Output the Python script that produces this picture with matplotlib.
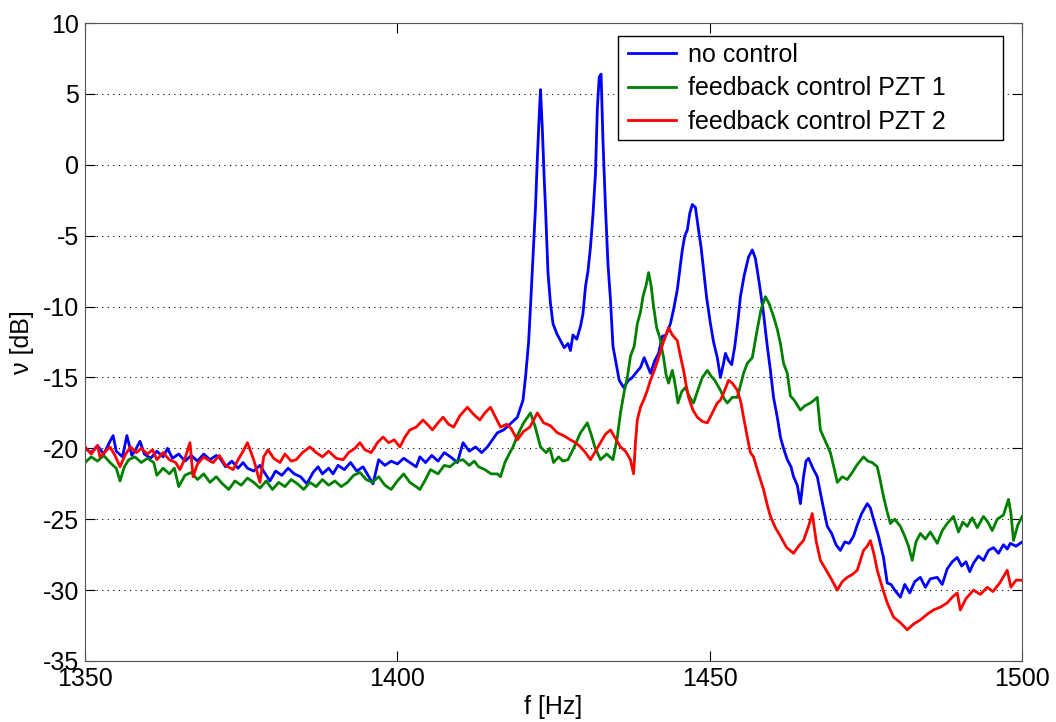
import numpy as np
import matplotlib
matplotlib.use('Agg')
import matplotlib.pyplot as plt
from matplotlib.patches import Rectangle

# no control (blue)
f_nc = [1350, 1351, 1352, 1353, 1354, 1354.5, 1355, 1356, 1356.7, 1357.5, 1358.2, 1358.8, 1359.5,
        1360.5, 1361.5, 1362.5, 1363.2, 1364, 1365, 1366, 1367, 1368, 1369, 1370, 1371, 1371.6,
        1372.5, 1373.5, 1374.5, 1375.3, 1376, 1377, 1378, 1379, 1379.6, 1380.5, 1381.5, 1382.5,
        1383.5, 1384.5, 1385.5, 1386.5, 1387.3, 1388, 1389, 1389.7, 1390.5, 1391.5, 1392.5, 1393.5,
        1394.5, 1395.3, 1396.1, 1397, 1398, 1399, 1400, 1401, 1402, 1403, 1403.6, 1404.5, 1405.5,
        1406.5, 1407.5, 1408.5, 1409.6, 1410.5, 1411.5, 1412.5, 1413.5, 1414.4, 1415.2, 1416, 1417,
        1418, 1419.2, 1420.1, 1420.5, 1421.0, 1421.3, 1421.7, 1422.1, 1422.4, 1422.7, 1422.9, 1423.2,
        1423.5, 1423.7, 1424.1, 1424.5, 1424.9, 1425.5, 1426.1, 1426.7, 1427.3, 1427.7, 1428.1,
        1428.7, 1429.3, 1429.7, 1430.1, 1430.5, 1430.9, 1431.3, 1431.7, 1432.0, 1432.3, 1432.6,
        1432.9, 1433.3, 1433.7, 1434.1, 1434.5, 1435.0, 1435.5, 1436.2, 1437, 1437.6, 1438.3, 1438.9,
        1439.5, 1440.5, 1441.2, 1441.8, 1442.4, 1443.0, 1443.7, 1444.2, 1444.8, 1445.2, 1445.6, 1446.0,
        1446.4, 1446.8, 1447.2, 1447.7, 1448.2, 1448.6, 1449.0, 1449.5, 1450.1, 1450.6, 1451.2, 1451.7,
        1452.2, 1452.5, 1453.0, 1453.5, 1454.0, 1454.5, 1454.9, 1455.5, 1456.2, 1456.8, 1457.3, 1457.9,
        1458.6, 1459.2, 1459.7, 1460.2, 1460.8, 1461.3, 1461.8, 1462.4, 1463.0, 1463.4, 1464.0, 1464.5,
        1465.0, 1465.4, 1465.8, 1466.5, 1467.2, 1468, 1468.8, 1469.5, 1470.2, 1470.9, 1471.6, 1472.3,
        1473, 1473.6, 1474.3, 1475.2, 1475.7, 1476.2, 1477.0, 1477.8, 1478.4, 1479.0, 1479.6, 1480.5,
        1481.2, 1482, 1482.8, 1483.7, 1484.5, 1485.3, 1486.4, 1487.2, 1488, 1488.8, 1489.6, 1490.3,
        1491, 1491.6, 1492.2, 1493, 1493.8, 1494.6, 1495.4, 1496.2, 1497, 1497.6, 1498.1, 1499, 1500]
db_nc = [-20.0, -20.3, -19.8, -20.4, -19.5, -19.1, -20.2, -20.6, -19.1, -20.5, -20.0, -19.5, -20.4,
         -20.7, -20.2, -20.6, -20.0, -20.7, -20.4, -20.9, -20.5, -20.9, -20.4, -20.8, -20.5, -20.7,
         -21.3, -20.9, -21.4, -21.0, -21.4, -21.6, -21.2, -21.9, -22.3, -21.6, -21.9, -21.4,
         -21.8, -22.0, -22.5, -21.7, -21.3, -21.8, -21.4, -21.8, -21.2, -21.5, -21.0, -21.6,
         -21.3, -21.9, -22.5, -20.8, -21.2, -20.9, -21.1, -20.7, -21.0, -21.3, -20.6, -21.0, -20.5,
         -20.9, -20.3, -20.6, -21.0, -19.6, -20.2, -19.9, -20.3, -19.9, -19.4, -18.9, -18.7,
         -18.3, -17.8, -16.6, -15.0, -12.5, -10.0, -6.5, -3.0, 0.5, 3.5, 5.3, 2.5,
         -1.0, -3.0, -7.6, -9.8, -11.2, -11.9, -12.4, -12.9, -12.6, -13.1, -12.0,
         -12.3, -11.4, -10.5, -8.6, -7.5, -5.8, -3.5, -0.6, 4.0, 6.2, 6.4,
         1.7, -3.0, -7.0, -9.5, -12.8, -14.0, -15.2, -15.7, -15.2, -15.0, -14.6, -14.3,
         -13.6, -14.7, -13.8, -13.3, -12.1, -12.0, -11.2, -10.2, -8.8, -7.4, -6.0, -5.0,
         -4.6, -3.4, -2.8, -3.0, -4.6, -5.8, -7.4, -9.4, -11.2, -12.5, -13.6, -15.0,
         -14.0, -13.3, -13.8, -14.1, -12.8, -11.0, -9.3, -7.8, -6.5, -6.0, -6.6, -8.3,
         -10.5, -12.8, -14.5, -16.4, -17.8, -19.2, -20.0, -20.8, -21.3, -22.0, -22.6, -23.9,
         -22.0, -20.9, -20.7, -21.4, -22.0, -23.8, -25.5, -26.0, -26.8, -27.2, -26.6, -26.7,
         -26.2, -25.4, -24.6, -23.9, -24.2, -25.0, -26.2, -27.7, -29.5, -29.6, -30.0, -30.5,
         -29.6, -30.2, -29.4, -29.1, -29.8, -29.2, -29.1, -29.6, -28.5, -28.0, -27.7, -28.3,
         -28.0, -28.7, -28.1, -27.6, -27.9, -27.2, -27.0, -27.4, -26.8, -27.1, -26.7, -26.9, -26.6]

# feedback control PZT 1 (green)
f_p1 = [1350, 1351, 1352, 1353, 1354, 1355, 1355.6, 1356.3, 1357, 1358, 1359, 1360, 1361, 1361.5,
        1362.5, 1363.5, 1364.3, 1365, 1366, 1367, 1368, 1369, 1370, 1371, 1372, 1373, 1374, 1375,
        1376, 1377, 1378, 1379, 1380, 1381, 1382, 1383, 1384, 1385, 1386, 1387, 1388, 1389, 1390,
        1391, 1392, 1393, 1394, 1395, 1396, 1397, 1398, 1399, 1400, 1401, 1402, 1403, 1403.6,
        1404.5, 1405.3, 1406.5, 1407.5, 1408.4, 1409.5, 1410.5, 1411.5, 1412.3, 1413, 1414, 1415,
        1416, 1416.5, 1417.2, 1418, 1418.5, 1419.3, 1420.2, 1421.3, 1422, 1422.9, 1423.8, 1424.4,
        1425, 1425.8, 1426.5, 1427.3, 1428.3, 1429.3, 1430.4, 1431, 1431.6, 1432.5, 1433.5, 1434.5,
        1435.2, 1435.7, 1436.3, 1436.8, 1437.3, 1437.9, 1438.4, 1438.9, 1439.3, 1439.8, 1440.2,
        1440.6, 1441, 1441.5, 1442, 1442.6, 1443, 1443.4, 1444, 1444.5, 1444.9, 1445.5, 1446.1,
        1446.8, 1447.4, 1448, 1448.8, 1449.6, 1450.2, 1450.8, 1451.7, 1452.3, 1452.8, 1453.6, 1454.4,
        1455, 1455.4, 1456, 1456.8, 1457.2, 1457.6, 1458.2, 1458.9, 1459.5, 1460.2, 1460.8, 1461.3,
        1461.8, 1462.4, 1462.9, 1463.5, 1464.5, 1465.2, 1466.1, 1466.7, 1467.2, 1467.7, 1468.5,
        1469.3, 1470, 1470.4, 1471.2, 1472, 1472.8, 1473.5, 1474.6, 1475.3, 1476, 1476.8, 1477.3,
        1477.8, 1478.4, 1478.9, 1479.6, 1480.5, 1481.2, 1481.8, 1482.4, 1483, 1483.7, 1484.5, 1485.3,
        1486.4, 1487.2, 1488, 1489, 1489.8, 1490.5, 1491.2, 1492, 1492.8, 1493.8, 1494.5, 1495.2,
        1496, 1497, 1497.8, 1498.2, 1498.6, 1499.3, 1500]
db_p1 = [-21.0, -20.6, -20.9, -20.5, -21.0, -21.4, -22.3, -21.3, -20.8, -20.6, -21.0, -20.7, -21.0, -21.9,
         -21.4, -21.8, -21.4, -22.7, -21.9, -21.7, -22.2, -21.8, -22.4, -22.0, -22.5, -22.9, -22.3, -22.6,
         -22.1, -22.4, -22.8, -22.3, -22.9, -22.4, -22.7, -22.2, -22.5, -22.9, -22.4, -22.7, -22.2, -22.6, -22.3,
         -22.7, -22.4, -21.9, -21.7, -22.2, -22.4, -22.0, -22.6, -22.9, -22.3, -21.8, -22.4, -22.7, -22.9,
         -22.2, -21.5, -21.8, -21.2, -21.3, -20.9, -20.8, -21.2, -20.9, -21.3, -21.5, -21.8,
         -21.8, -22.0, -21.0, -20.3, -19.9, -19.0, -18.2, -17.5, -18.4, -19.9, -20.3, -20.0,
         -21.0, -20.6, -20.9, -20.8, -19.9, -18.9, -18.2, -19.0, -19.9, -20.8, -20.4, -20.8,
         -19.2, -17.5, -16.0, -15.0, -13.5, -12.8, -11.2, -10.4, -9.3, -8.5, -7.6,
         -8.5, -10.0, -11.5, -12.2, -13.6, -14.8, -15.4, -14.5, -15.6, -16.8, -16.0, -15.7,
         -16.4, -16.8, -16.0, -15.0, -14.5, -14.9, -15.2, -15.9, -16.5, -16.8, -16.4, -16.4,
         -15.4, -14.7, -14.0, -13.6, -12.6, -11.6, -10.2, -9.3, -9.8, -10.7, -11.6, -12.6,
         -14.0, -14.7, -16.3, -16.6, -17.3, -17.0, -16.8, -16.6, -16.4, -18.7, -19.5,
         -20.3, -21.6, -22.4, -22.0, -22.2, -21.7, -21.2, -20.6, -20.9, -21.0, -21.3, -22.3,
         -23.4, -24.5, -25.3, -25.0, -25.5, -26.2, -26.9, -27.9, -26.6, -26.0, -26.4, -25.9,
         -26.7, -25.8, -25.3, -24.8, -25.9, -25.2, -25.5, -24.9, -25.6, -24.8, -25.2, -25.8,
         -25.0, -24.7, -23.6, -24.6, -26.5, -25.4, -24.8]

# feedback control PZT 2 (red)
f_p2 = [1350, 1351, 1352, 1352.4, 1353.3, 1354, 1354.8, 1355.6, 1356.5, 1357.3, 1358.2, 1359, 1360,
        1360.8, 1361.5, 1362.5, 1363.5, 1364.5, 1365.2, 1366, 1366.8, 1367.3, 1368, 1369, 1370, 1370.5,
        1371.5, 1372.5, 1373.7, 1374.5, 1375.3, 1376, 1377, 1378, 1378.6, 1379.3, 1380.2, 1381.2, 1382,
        1383, 1383.8, 1384.8, 1386, 1387, 1388, 1389, 1390.2, 1391.3, 1392.2, 1393.2, 1394, 1394.8,
        1395.8, 1396.8, 1397.7, 1398.6, 1399.5, 1400.4, 1401.2, 1402, 1403, 1404.1, 1405, 1405.6,
        1406.5, 1407.3, 1408.2, 1409, 1410, 1411.2, 1412.2, 1413.2, 1414, 1414.9, 1415.7, 1416.5,
        1417.5, 1418.2, 1419.2, 1420.2, 1421.2, 1422.4, 1423.4, 1424.5, 1425.6, 1426.6, 1427.7, 1428.5,
        1429.3, 1430.1, 1430.9, 1431.7, 1432.5, 1433.3, 1434.1, 1434.9, 1435.7, 1436.5, 1437.3, 1437.8,
        1438.1, 1438.4, 1438.9, 1439.5, 1440.0, 1440.5, 1441.2, 1441.8, 1442.5, 1443.0, 1443.4, 1444.0,
        1444.8, 1445.3, 1445.8, 1446.2, 1446.6, 1447.3, 1448, 1448.8, 1449.6, 1450.4, 1451.2, 1451.7,
        1452.3, 1453.0, 1453.6, 1454.4, 1455, 1455.4, 1456, 1456.5, 1457, 1457.8, 1458.6, 1459.2,
        1459.7, 1460.5, 1461.3, 1462.3, 1463.4, 1464.2, 1465, 1465.8, 1466.4, 1467, 1467.7, 1468.5,
        1469.3, 1470.4, 1471.2, 1472, 1472.8, 1473.6, 1474.6, 1475.2, 1475.7, 1476.3, 1476.8, 1477.6,
        1478.4, 1479.4, 1480.5, 1481.6, 1482.6, 1483.7, 1484.8, 1485.8, 1486.9, 1488, 1488.8, 1489.6,
        1490.1, 1491, 1492.2, 1493.3, 1494.4, 1495.3, 1496.4, 1497.6, 1498.2, 1499, 1500]
db_p2 = [-19.9, -20.4, -19.8, -20.6, -20.2, -19.9, -20.5, -21.3, -20.4, -19.9, -20.3, -20.0, -20.4,
         -20.1, -20.8, -20.3, -20.8, -21.0, -21.5, -20.7, -19.6, -22.0, -21.1, -20.6, -20.9, -21.0,
         -20.5, -21.2, -21.5, -20.8, -20.2, -19.6, -20.8, -22.4, -20.6, -20.1, -20.7, -21.0, -20.4,
         -20.9, -20.8, -20.3, -19.9, -20.3, -20.6, -20.2, -20.7, -20.8, -20.3, -20.0, -19.6, -20.1,
         -20.3, -19.6, -19.2, -19.6, -19.4, -19.9, -19.2, -18.7, -18.5, -18.0, -18.4, -18.7,
         -18.2, -17.8, -18.3, -18.5, -17.7, -17.1, -17.6, -18.0, -17.5, -17.1, -17.8, -18.5,
         -18.3, -18.6, -19.4, -18.8, -18.5, -17.5, -18.2, -18.4, -18.9, -19.1, -19.4, -19.6,
         -19.9, -20.3, -20.8, -20.2, -19.6, -19.0, -18.7, -19.3, -19.9, -20.2, -20.8, -21.8,
         -19.6, -18.0, -17.1, -16.5, -15.9, -15.2, -14.4, -13.6, -12.6, -12.0, -11.5, -12.0,
         -12.4, -13.5, -14.5, -15.5, -16.4, -17.3, -17.8, -18.1, -18.2, -17.5, -16.8, -16.6,
         -16.0, -15.2, -15.4, -15.9, -16.8, -17.8, -19.2, -20.3, -20.6, -21.8, -22.9, -24.0,
         -24.8, -25.6, -26.2, -27.0, -27.4, -26.9, -26.5, -25.5, -24.6, -26.5, -27.9, -28.5,
         -29.1, -30.0, -29.4, -29.1, -28.9, -28.6, -27.2, -26.9, -26.5, -27.5, -28.6, -29.8,
         -30.9, -31.9, -32.3, -32.8, -32.4, -32.1, -31.7, -31.4, -31.2, -30.9, -30.5, -30.2,
         -31.4, -30.6, -30.0, -30.3, -29.8, -30.1, -29.5, -28.6, -29.8, -29.3, -29.3]

plt.rcParams['font.family'] = ['Liberation Sans', 'DejaVu Sans']
plt.rcParams['axes.unicode_minus'] = False

fig = plt.figure(figsize=(10.56, 7.22), dpi=100)
ax = fig.add_axes([0.0805, 0.0845, 0.8875, 0.8835])

ax.plot(f_nc, db_nc, color=(0, 0, 1), lw=2, label='no control')
ax.plot(f_p1, db_p1, color=(0, 0.5, 0), lw=2, label='feedback control PZT 1')
ax.plot(f_p2, db_p2, color=(1, 0, 0), lw=2, label='feedback control PZT 2')

ax.set_xlim(1350, 1500)
ax.set_ylim(-35, 10)
ax.set_xticks([1350, 1400, 1450, 1500])
ax.set_yticks(np.arange(-35, 11, 5))
ax.yaxis.grid(True, linestyle=(0, (1, 4)), color='black', lw=0.8)
ax.tick_params(direction='in', top=True, right=True, labelsize=18, length=7)
ax.tick_params(axis='y', pad=4.5)
ax.tick_params(axis='x', pad=4)
for s in ax.spines.values():
    s.set_color('#555555')

ax.set_xlabel('f [Hz]', fontsize=18, labelpad=3)
ax.set_ylabel('ν [dB]', fontsize=18, labelpad=6)

# legend box drawn separately (MATLAB-style wide frame)
ax.add_patch(Rectangle((0.5688, 0.8166), 0.4109, 0.163, transform=ax.transAxes,
                       facecolor='white', edgecolor='black', lw=1, zorder=4))
leg = ax.legend(loc='upper left', bbox_to_anchor=(0.5795, 0.969), fontsize=18,
                frameon=False, handlelength=1.92, handletextpad=0.48,
                borderpad=0, labelspacing=0.38, borderaxespad=0)
leg.set_zorder(5)

fig.savefig('out.png', dpi=100)
